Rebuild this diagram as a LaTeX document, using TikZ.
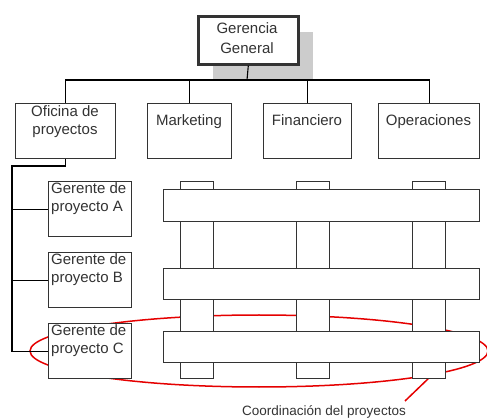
\documentclass[tikz,border=0pt]{standalone}
\usepackage{fontspec}
\setmainfont{Liberation Sans}
\usetikzlibrary{shapes.geometric}
\begin{document}
\begin{tikzpicture}[x=1pt,y=-1pt,
  box/.style={draw=black!80, line width=1.2pt, fill=white, anchor=north west, inner sep=0pt, rectangle},
  txt/.style={font=\fontsize{15}{18}\selectfont, text=black!80, align=center, inner sep=0pt},
  stxt/.style={font=\fontsize{15}{18}\selectfont, text=black!80, inner sep=0pt, anchor=base},
  ltxt/.style={font=\fontsize{15}{18}\selectfont, text=black!80, align=left, inner sep=0pt, anchor=north west},
  conn/.style={draw=black, line width=1.1pt},
  post/.style={draw=black!80, line width=1.2pt, fill=white, anchor=north west, inner sep=0pt, minimum width=33pt, minimum height=197pt},
  bar/.style={draw=black!80, line width=1.2pt, fill=white, anchor=north west, inner sep=0pt, minimum width=316pt},
  redl/.style={draw=red!90!black, line width=1.5pt}
]
\useasboundingbox (0,0) rectangle (487,419);
% shadow
\fill[black!20] (213,32) rectangle (313,80);
% red ellipse and pointer
\node[ellipse, redl, inner sep=0pt, minimum width=458pt, minimum height=72pt] (ell) at (259,351) {};
\coordinate (pe) at (405,401);
\draw[redl] (430,377) -- (pe);
% top box
\node[box, line width=2.6pt, minimum width=100pt, minimum height=48pt] (ger) at (197,15) {};
\node[txt, font=\fontsize{15}{20}\selectfont] (gert) at (247,38) {Gerencia\\General};
% level 2
\node[box, minimum width=100pt, minimum height=55pt] (ofi) at (15,103) {};
\node[box, minimum width=84pt, minimum height=55pt] (mkt) at (147,103) {};
\node[box, minimum width=88pt, minimum height=55pt] (fin) at (263,103) {};
\node[box, minimum width=101pt, minimum height=55pt] (ope) at (378,103) {};
\node[txt] (ofit) at (65,122) {Oficina de\\proyectos};
\node[stxt] (mktt) at (189,125.5) {Marketing};
\node[stxt] (fint) at (307,125.5) {Financiero};
\node[stxt] (opet) at (428.5,125.5) {Operaciones};
% bus
\coordinate (bus) at (247,80);
\draw[conn] (ger.south) -- (bus);
\draw[conn] (ofi.north) -- (ofi.north |- bus) -- (ope.north |- bus) -- (ope.north);
\draw[conn] (mkt.north) -- (mkt.north |- bus);
\draw[conn] (fin.north) -- (fin.north |- bus);
% project managers
\node[box, minimum width=83pt, minimum height=55pt] (ga) at (48,181) {};
\node[box, minimum width=83pt, minimum height=55pt] (gb) at (48,252) {};
\node[box, minimum width=83pt, minimum height=55pt] (gc) at (48,323) {};
\node[ltxt] (gat) at (51,182) {Gerente de\\proyecto A};
\node[ltxt] (gbt) at (51,253) {Gerente de\\proyecto B};
\node[ltxt] (gct) at (51,324) {Gerente de\\proyecto C};
\coordinate (trunk) at (12,166);
\draw[conn] (ofi.south) |- (trunk) -- (trunk |- gc.west) -- (gc.west);
\draw[conn] (trunk |- ga.west) -- (ga.west);
\draw[conn] (trunk |- gb.west) -- (gb.west);
% posts
\node[post] (p1) at (180,181) {};
\node[post] (p2) at (296,181) {};
\node[post] (p3) at (412,181) {};
% bars
\node[bar, minimum height=32pt] (b1) at (163,189) {};
\node[bar, minimum height=31pt] (b2) at (163,268) {};
\node[bar, minimum height=31pt] (b3) at (163,331) {};
% label
\node[txt, font=\fontsize{13.5}{16}\selectfont] (lab) at (324,412) {Coordinación del proyectos};
\end{tikzpicture}
\end{document}
